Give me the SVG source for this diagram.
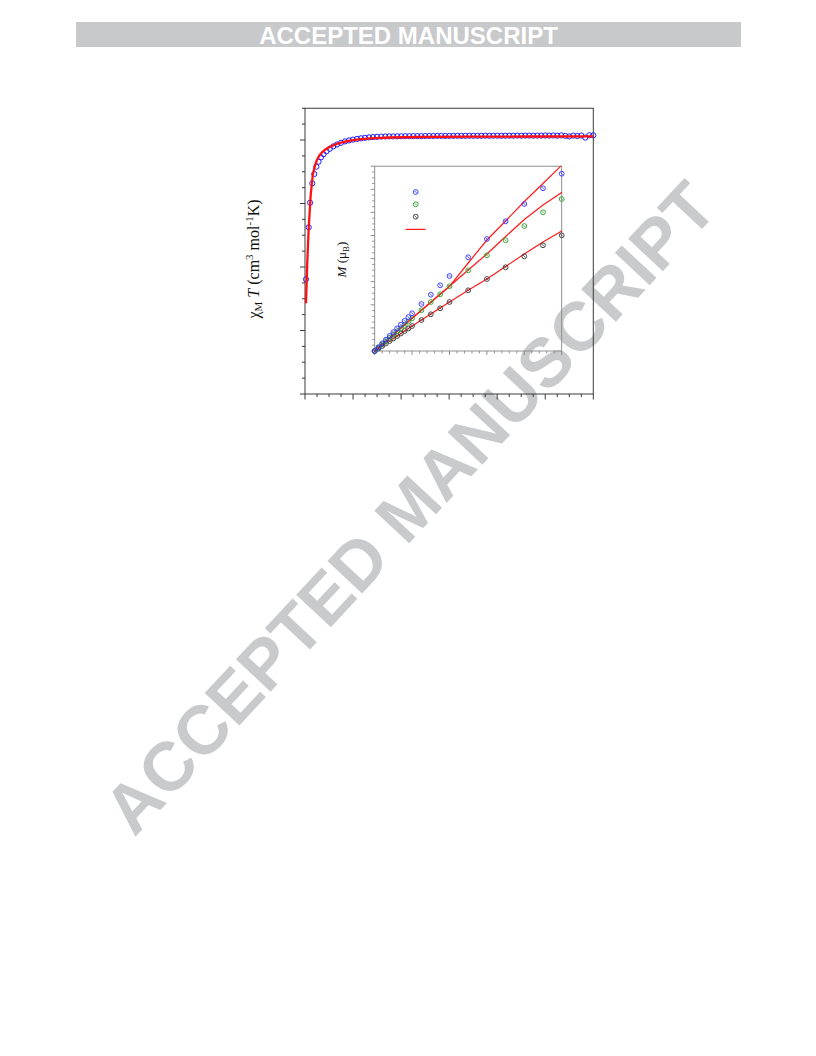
<svg xmlns="http://www.w3.org/2000/svg" width="816" height="1056" viewBox="0 0 816 1056">
<style>
.axis{fill:none;stroke:#3a3a3a;stroke-width:1}
.iaxis{fill:none;stroke:#858585;stroke-width:0.9}
.mp{fill:none;stroke:#1f1fff;stroke-width:1}
.fit{fill:none;stroke:#ff1a1a;stroke-width:1.2;stroke-linejoin:round;stroke-linecap:round}
.serif{font-family:"Liberation Serif","Times New Roman",serif;fill:#111}
</style>
<defs>
<g id="mb"><circle r="2.4" fill="none" stroke="#2f2fff" stroke-width="0.9"/><line x1="-1.1" y1="-1.1" x2="1.1" y2="1.1" stroke="#2f2fff" stroke-width="0.8"/></g>
<g id="mg"><circle r="2.4" fill="none" stroke="#2a9d2a" stroke-width="0.9"/><line x1="-1.1" y1="-1.1" x2="1.1" y2="1.1" stroke="#2a9d2a" stroke-width="0.8"/></g>
<g id="mk"><circle r="2.4" fill="none" stroke="#333" stroke-width="0.9"/><line x1="-1.1" y1="-1.1" x2="1.1" y2="1.1" stroke="#333" stroke-width="0.8"/></g>
</defs>
<rect width="816" height="1056" fill="#fff"/>

<g id="watermark">
<text transform="translate(427,524) rotate(-47)" text-anchor="middle" font-family="Liberation Sans, Arial, sans-serif" font-weight="bold" font-size="69" fill="#c9cacc">ACCEPTED MANUSCRIPT</text>
</g>

<g id="header">
<rect x="76" y="22" width="665" height="25" fill="#c8c9cb"/>
<text x="408.5" y="43.5" text-anchor="middle" font-family="Liberation Sans, Arial, sans-serif" font-weight="bold" font-size="24" fill="#fff">ACCEPTED MANUSCRIPT</text>
</g>

<g id="main-axes">
<rect class="axis" x="305" y="108.25" width="288.3" height="285.75"/>
<path class="axis" d="M300,394H305M300,330.5H305M300,267H305M300,203.5H305M300,140H305
M302,378.125H305M302,362.25H305M302,346.375H305M302,314.625H305M302,298.75H305M302,282.875H305M302,251.125H305M302,235.25H305M302,219.375H305M302,187.625H305M302,171.75H305M302,155.875H305M302,124.125H305M302,108.25H305"/>
<path class="axis" d="M305,394V399.5M353.05,394V399.5M401.1,394V399.5M449.15,394V399.5M497.2,394V399.5M545.25,394V399.5M593.3,394V399.5
M317.01,394V397M329.03,394V397M341.04,394V397M365.06,394V397M377.08,394V397M389.09,394V397M413.11,394V397M425.13,394V397M437.14,394V397M461.16,394V397M473.18,394V397M485.19,394V397M509.21,394V397M521.23,394V397M533.24,394V397M557.26,394V397M569.28,394V397M581.29,394V397"/>
</g>

<g id="main-ylabel">
<text class="serif" transform="translate(259,259) rotate(-90)" text-anchor="middle" font-size="16">χ<tspan font-size="11" dy="3">M</tspan><tspan dy="-3" font-style="italic"> T</tspan> (cm<tspan font-size="11" dy="-6">3</tspan><tspan dy="6"> mol</tspan><tspan font-size="11" dy="-6">-1</tspan><tspan dy="6">K)</tspan></text>
</g>

<g id="main-data">
<circle class="mp" r="2.6" cx="306" cy="279.3"/><circle class="mp" r="2.6" cx="308.7" cy="227.3"/><circle class="mp" r="2.6" cx="310.1" cy="202.7"/><circle class="mp" r="2.6" cx="312.3" cy="183.3"/><circle class="mp" r="2.6" cx="314.3" cy="174"/><circle class="mp" r="2.6" cx="316.4" cy="166.7"/><circle class="mp" r="2.6" cx="318.5" cy="161.7"/><circle class="mp" r="2.6" cx="321" cy="157.3"/><circle class="mp" r="2.6" cx="323.5" cy="154.2"/><circle class="mp" r="2.6" cx="326.5" cy="151.3"/><circle class="mp" r="2.6" cx="329.8" cy="148.8"/><circle class="mp" r="2.6" cx="333.3" cy="146.4"/><circle class="mp" r="2.6" cx="337" cy="144.5"/><circle class="mp" r="2.6" cx="341" cy="142.8"/><circle class="mp" r="2.6" cx="345" cy="141.4"/><circle class="mp" r="2.6" cx="349" cy="140.4"/><circle class="mp" r="2.6" cx="353" cy="139.6"/><circle class="mp" r="2.6" cx="357" cy="138.9"/><circle class="mp" r="2.6" cx="361" cy="138.3"/><circle class="mp" r="2.6" cx="365" cy="137.8"/><circle class="mp" r="2.6" cx="369" cy="137.4"/><circle class="mp" r="2.6" cx="373" cy="137.1"/><circle class="mp" r="2.6" cx="377" cy="136.8"/>
<circle class="mp" r="2.6" cx="381.3" cy="136.6"/><circle class="mp" r="2.6" cx="385.3" cy="136.5"/><circle class="mp" r="2.6" cx="389.3" cy="136.4"/><circle class="mp" r="2.6" cx="393.3" cy="136.4"/><circle class="mp" r="2.6" cx="397.3" cy="136.3"/><circle class="mp" r="2.6" cx="401.3" cy="136.3"/><circle class="mp" r="2.6" cx="405.3" cy="136.2"/><circle class="mp" r="2.6" cx="409.3" cy="136.2"/><circle class="mp" r="2.6" cx="413.3" cy="136.1"/><circle class="mp" r="2.6" cx="417.3" cy="136.1"/><circle class="mp" r="2.6" cx="421.3" cy="136.1"/><circle class="mp" r="2.6" cx="425.3" cy="136"/><circle class="mp" r="2.6" cx="429.3" cy="136"/><circle class="mp" r="2.6" cx="433.3" cy="136"/><circle class="mp" r="2.6" cx="437.3" cy="135.9"/><circle class="mp" r="2.6" cx="441.3" cy="135.9"/><circle class="mp" r="2.6" cx="445.3" cy="136"/><circle class="mp" r="2.6" cx="449.3" cy="135.9"/><circle class="mp" r="2.6" cx="453.3" cy="135.9"/><circle class="mp" r="2.6" cx="457.3" cy="135.8"/><circle class="mp" r="2.6" cx="461.3" cy="135.9"/><circle class="mp" r="2.6" cx="465.3" cy="135.8"/><circle class="mp" r="2.6" cx="469.3" cy="135.8"/><circle class="mp" r="2.6" cx="473.3" cy="135.8"/><circle class="mp" r="2.6" cx="477.3" cy="135.8"/><circle class="mp" r="2.6" cx="481.3" cy="135.8"/><circle class="mp" r="2.6" cx="485.3" cy="135.7"/><circle class="mp" r="2.6" cx="489.3" cy="135.8"/><circle class="mp" r="2.6" cx="493.3" cy="135.7"/><circle class="mp" r="2.6" cx="497.3" cy="135.7"/><circle class="mp" r="2.6" cx="501.3" cy="135.8"/><circle class="mp" r="2.6" cx="505.3" cy="135.7"/><circle class="mp" r="2.6" cx="509.3" cy="135.7"/><circle class="mp" r="2.6" cx="513.3" cy="135.7"/><circle class="mp" r="2.6" cx="517.3" cy="135.6"/><circle class="mp" r="2.6" cx="521.3" cy="135.7"/><circle class="mp" r="2.6" cx="525.3" cy="135.6"/><circle class="mp" r="2.6" cx="529.3" cy="135.6"/><circle class="mp" r="2.6" cx="533.3" cy="135.7"/><circle class="mp" r="2.6" cx="537.3" cy="135.6"/><circle class="mp" r="2.6" cx="541.3" cy="135.6"/><circle class="mp" r="2.6" cx="545.3" cy="135.5"/><circle class="mp" r="2.6" cx="549.3" cy="135.6"/><circle class="mp" r="2.6" cx="553.3" cy="135.5"/><circle class="mp" r="2.6" cx="557.3" cy="135.7"/><circle class="mp" r="2.6" cx="561.3" cy="135.4"/><circle class="mp" r="2.6" cx="565.3" cy="135.9"/><circle class="mp" r="2.6" cx="569.3" cy="136.4"/><circle class="mp" r="2.6" cx="573.3" cy="135.6"/><circle class="mp" r="2.6" cx="577.3" cy="136"/><circle class="mp" r="2.6" cx="581.3" cy="135.5"/><circle class="mp" r="2.6" cx="585.3" cy="137.6"/><circle class="mp" r="2.6" cx="589.3" cy="135.3"/><circle class="mp" r="2.6" cx="593.3" cy="135.3"/>
</g>

<g id="main-fit">
<path fill="none" stroke="#ff1010" stroke-width="2.3" stroke-linejoin="round" d="M306,303.3 L307.3,261.7 L308.7,228.3 L310.7,195 L312.7,175.5 L314.6,166.8 L316.7,160.6 L319,156 L321.7,152.6 L325.5,149.3 L330,146.8 L336,144.2 L343.3,142 L350,140.6 L356.7,139.6 L370,138.4 L390,137.5 L420,137 L470,136.7 L530,136.5 L593.3,136.3"/>
</g>

<g id="inset-axes">
<rect class="iaxis" x="374.7" y="166.2" width="187" height="184.8"/>
<path class="iaxis" d="M370.7,351H374.7M370.7,327.9H374.7M370.7,304.8H374.7M370.7,281.7H374.7M370.7,258.6H374.7M370.7,235.5H374.7M370.7,212.4H374.7M370.7,189.3H374.7M370.7,166.2H374.7
M372.2,345.2H374.7M372.2,339.45H374.7M372.2,333.7H374.7M372.2,322.1H374.7M372.2,316.35H374.7M372.2,310.6H374.7M372.2,299H374.7M372.2,293.25H374.7M372.2,287.5H374.7M372.2,275.9H374.7M372.2,270.15H374.7M372.2,264.4H374.7M372.2,252.8H374.7M372.2,247.05H374.7M372.2,241.3H374.7M372.2,229.7H374.7M372.2,223.95H374.7M372.2,218.2H374.7M372.2,206.6H374.7M372.2,200.85H374.7M372.2,195.1H374.7M372.2,183.5H374.7M372.2,177.75H374.7M372.2,172H374.7"/>
<path class="iaxis" d="M374.7,351V355M412.1,351V355M449.5,351V355M486.9,351V355M524.3,351V355M561.7,351V355
M382.18,351V353.5M389.66,351V353.5M397.14,351V353.5M404.62,351V353.5M419.58,351V353.5M427.06,351V353.5M434.54,351V353.5M442.02,351V353.5M456.98,351V353.5M464.46,351V353.5M471.94,351V353.5M479.42,351V353.5M494.38,351V353.5M501.86,351V353.5M509.34,351V353.5M516.82,351V353.5M531.78,351V353.5M539.26,351V353.5M546.74,351V353.5M554.22,351V353.5"/>
</g>

<g id="inset-ylabel">
<text class="serif" transform="translate(346,259.5) rotate(-90)" text-anchor="middle" font-size="13"><tspan font-style="italic">M</tspan> (μ<tspan font-size="9" dy="3">B</tspan><tspan dy="-3">)</tspan></text>
</g>

<g id="inset-fits">
<path class="fit" d="M374.7,351 L412.1,318.3 L449.5,286.3 L468.2,263 L486.9,240 L505.6,221 L524.3,201.5 L543,183.5 L560.5,166.4"/>
<path class="fit" d="M374.7,351 L412.1,318.3 L449.5,286.3 L468.2,270 L486.9,254 L505.6,236.5 L524.3,219.5 L543,205 L561.7,192.5"/>
<path class="fit" d="M374.7,351 L412.1,326 L449.5,302 L468.2,290.3 L486.9,279 L505.6,266.5 L524.3,254 L543,242 L561.7,231"/>
</g>

<g id="inset-black">
<use href="#mk" x="374.7" y="351"/><use href="#mk" x="378.44" y="348.5"/><use href="#mk" x="382.18" y="346"/><use href="#mk" x="385.92" y="343.5"/><use href="#mk" x="389.66" y="341"/><use href="#mk" x="393.4" y="338.5"/><use href="#mk" x="397.14" y="336"/><use href="#mk" x="400.88" y="333.5"/><use href="#mk" x="404.62" y="331"/><use href="#mk" x="408.36" y="328.5"/><use href="#mk" x="412.1" y="326"/><use href="#mk" x="421.45" y="320"/><use href="#mk" x="430.8" y="314.3"/><use href="#mk" x="440.15" y="308.3"/><use href="#mk" x="449.5" y="302"/><use href="#mk" x="468.2" y="290.3"/><use href="#mk" x="486.9" y="279"/><use href="#mk" x="505.6" y="267.3"/><use href="#mk" x="524.3" y="256.3"/><use href="#mk" x="543" y="245.3"/><use href="#mk" x="561.7" y="235.3"/>
</g>
<g id="inset-green">
<use href="#mg" x="374.7" y="351"/><use href="#mg" x="378.44" y="347.73"/><use href="#mg" x="382.18" y="344.46"/><use href="#mg" x="385.92" y="341.19"/><use href="#mg" x="389.66" y="337.92"/><use href="#mg" x="393.4" y="334.65"/><use href="#mg" x="397.14" y="331.38"/><use href="#mg" x="400.88" y="328.11"/><use href="#mg" x="404.62" y="324.84"/><use href="#mg" x="408.36" y="321.57"/><use href="#mg" x="412.1" y="318.3"/><use href="#mg" x="421.45" y="310.3"/><use href="#mg" x="430.8" y="302"/><use href="#mg" x="440.15" y="294.3"/><use href="#mg" x="449.5" y="286.3"/><use href="#mg" x="468.2" y="270.3"/><use href="#mg" x="486.9" y="255.3"/><use href="#mg" x="505.6" y="240.3"/><use href="#mg" x="524.3" y="226"/><use href="#mg" x="543" y="212.3"/><use href="#mg" x="561.7" y="199"/>
</g>
<g id="inset-blue">
<use href="#mb" x="374.7" y="351"/><use href="#mb" x="378.44" y="347.23"/><use href="#mb" x="382.18" y="343.46"/><use href="#mb" x="385.92" y="339.69"/><use href="#mb" x="389.66" y="335.92"/><use href="#mb" x="393.4" y="332.15"/><use href="#mb" x="397.14" y="328.38"/><use href="#mb" x="400.88" y="324.61"/><use href="#mb" x="404.62" y="320.84"/><use href="#mb" x="408.36" y="317.07"/><use href="#mb" x="412.1" y="313.3"/><use href="#mb" x="421.45" y="304"/><use href="#mb" x="430.8" y="294.7"/><use href="#mb" x="440.15" y="285.3"/><use href="#mb" x="449.5" y="276"/><use href="#mb" x="468.2" y="257.3"/><use href="#mb" x="486.9" y="239"/><use href="#mb" x="505.6" y="221.3"/><use href="#mb" x="524.3" y="204"/><use href="#mb" x="543" y="188.3"/><use href="#mb" x="561.7" y="173.7"/>
</g>

<g id="inset-legend">
<use href="#mb" x="415.7" y="192"/>
<use href="#mg" x="415.7" y="204.3"/>
<use href="#mk" x="415.7" y="216.7"/>
<line class="fit" x1="406" y1="229.3" x2="425" y2="229.3"/>
</g>
</svg>
